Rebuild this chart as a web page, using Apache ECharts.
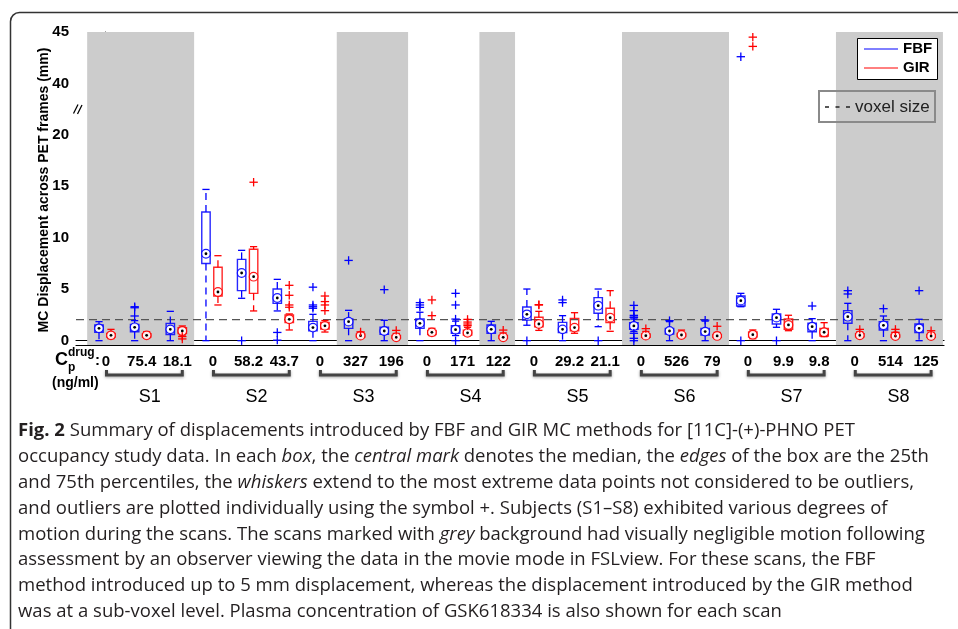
<!DOCTYPE html>
<html><head><meta charset="utf-8">
<script src="https://cdn.jsdelivr.net/npm/echarts@6/dist/echarts.min.js"></script>
<style>html,body{margin:0;padding:0;background:#fff}#c{width:958px;height:629px}</style>
</head><body><div id="c"></div><script>
// ---------- data ----------
const concLabels = ['0','75.4','18.1','0','58.2','43.7','0','327','196','0','171','122','0','29.2','21.1','0','526','79','0','9.9','9.8','0','514','125'];
const subjects = ['S1','S2','S3','S4','S5','S6','S7','S8'];
const greyScans = [1,1,1, 0,0,0, 0,1,1, 0,0,1, 0,0,0, 1,1,1, 0,0,0, 1,1,1];
// [min, q1, median, q3, max] per scan
const fbfStats = [
  [0,0.82,1.2,1.53,1.85],[0,0.87,1.3,1.58,1.95],[0,0.6,1.1,1.68,2.85],
  [0,7.5,8.45,12.5,14.7],[4.12,4.86,6.58,7.9,8.78],[2.89,3.63,4.15,5.02,5.96],
  [0,0.97,1.27,1.88,2.56],[0,1.2,1.85,2.1,2.95],[0,0.62,0.94,1.3,1.98],
  [0,1.2,1.69,2.1,2.76],[0.5,0.72,1.07,1.46,1.9],[0,0.72,1.1,1.52,1.88],
  [1.5,2.0,2.56,3.27,5.02],[0,0.78,1.1,1.78,2.43],[1.36,2.66,3.4,4.18,5.02],
  [0.9,1.1,1.43,1.75,2.1],[0,0.65,0.94,1.2,1.85],[0,0.55,0.88,1.2,1.9],
  [3.3,3.37,3.89,4.34,4.6],[1.3,1.62,2.24,2.59,3.05],[0,0.87,1.36,1.69,2.14],
  [0,1.69,2.33,2.92,3.63],[0,1.04,1.49,1.85,2.4],[0,0.78,1.2,1.62,2.08]
];
const fbfOutliers = [
  [],[2.4,3.2,3.3],[],
  [],[0],[0.8,0.05],
  [3.15,3.3,3.47,5.2],[7.8],[4.96],
  [3.24,3.47,3.7],[0,2.1,3.47,4.6],[],
  [0],[3.7,3.96],[0],
  [2.24,2.3,2.46,2.92,3.43,0.72,0.23,0],[1.95],[2.0],
  [0,42.6],[0],[3.37],
  [4.54,4.86],[3.11],[4.86]
];
const girStats = [
  [0.2,0.35,0.52,0.7,1.1],[0.25,0.35,0.52,0.68,0.87],[0.55,0.7,0.94,1.25,1.43],
  [3.47,4.34,4.73,7.13,8.26],[2.89,4.6,6.22,8.88,9.14],[1.04,1.75,2.08,2.5,2.6],
  [0.84,1.13,1.44,1.78,1.96],[0.25,0.35,0.49,0.65,0.8],[0.15,0.22,0.33,0.5,0.7],
  [0.49,0.6,0.81,1.0,1.2],[0.49,0.55,0.76,1.03,1.3],[0.15,0.22,0.33,0.5,0.75],
  [1.0,1.36,1.62,2.27,2.85],[0.72,0.97,1.27,2.17,2.72],[0.91,1.75,2.24,3.15,4.86],
  [0.25,0.33,0.49,0.65,0.9],[0.3,0.4,0.55,0.7,1.03],[0.25,0.33,0.46,0.6,0.8],
  [0.19,0.35,0.58,0.85,1.04],[0.97,1.1,1.53,2.11,2.47],[0.39,0.45,0.82,1.2,1.75],
  [0.3,0.38,0.52,0.68,0.85],[0.25,0.33,0.45,0.6,0.75],[0.25,0.33,0.45,0.6,0.75]
];
const girOutliers = [
  [],[],[0.4,0.17],
  [],[15.4],[3.25,3.47,4.41,5.38],
  [2.92,3.47,3.8,4.34],[0.85],[1.0],
  [2.43,3.96],[1.46,1.62,1.81,2.07],[1.03],
  [3.47,3.5],[],[],
  [1.17],[],[1.4],
  [43.6,44.5],[],[],
  [1.1],[0.81,1.1],[0.97]
];
const voxelSize = 2.05;
const yTickValues = [0,5,10,15,20,40,45];

// ---------- helpers ----------
const BLUE = '#0000ff', RED = '#ff0000';
const OFF = 0.168;
function T(v){ return v >= 40 ? v - 15 : v; }      // broken axis 20 | 40
function invT(v){ return v > 20 ? v + 15 : v; }
const FONT = '"Liberation Sans", Arial, sans-serif';

const boxData = [];
fbfStats.forEach((s,i)=>boxData.push([i-OFF].concat(s,[0])));
girStats.forEach((s,i)=>boxData.push([i+OFF].concat(s,[1])));
const outData = [];
fbfOutliers.forEach((a,i)=>a.forEach(v=>outData.push([i-OFF, v, 0])));
girOutliers.forEach((a,i)=>a.forEach(v=>outData.push([i+OFF, v, 1])));

// grey runs
const greyRuns = [];
greyScans.forEach((g,i)=>{
  if(!g) return;
  const last = greyRuns[greyRuns.length-1];
  if(last && last[1] === i-1) last[1] = i; else greyRuns.push([i,i]);
});

function renderBox(params, api){
  const x = api.value(0);
  const v = [1,2,3,4,5].map(k=>T(api.value(k)));
  const col = api.value(6) ? RED : BLUE;
  const px = api.coord([x,0])[0];
  const y = v.map(t=>api.coord([x,t])[1]);
  const hw = 4.2, cw = 3.6;
  const wStyle = {stroke: col, lineWidth: 1.3, lineDash: [7,5]};
  const children = [];
  if (y[4] < y[3]-0.5) children.push({type:'line', shape:{x1:px,y1:y[3],x2:px,y2:y[4]}, style:wStyle});
  if (y[0] > y[1]+0.5) children.push({type:'line', shape:{x1:px,y1:y[1],x2:px,y2:y[0]}, style:wStyle});
  children.push({type:'line', shape:{x1:px-cw,y1:y[4],x2:px+cw,y2:y[4]}, style:{stroke:col,lineWidth:1.3}});
  children.push({type:'line', shape:{x1:px-cw,y1:y[0],x2:px+cw,y2:y[0]}, style:{stroke:col,lineWidth:1.3}});
  children.push({type:'rect', shape:{x:px-hw,y:y[3],width:2*hw,height:Math.max(y[1]-y[3],1)}, style:{fill:'rgba(0,0,0,0)',stroke:col,lineWidth:1.4,opacity:0.85}});
  children.push({type:'circle', shape:{cx:px,cy:y[2],r:4.3}, style:{fill:'#fff',stroke:col,lineWidth:1.2,opacity:0.9}});
  children.push({type:'circle', shape:{cx:px,cy:y[2],r:1.4}, style:{fill:'#000'}});
  return {type:'group', children};
}
function renderOut(params, api){
  const c = api.coord([api.value(0), T(api.value(1))]);
  const col = api.value(2) ? RED : BLUE;
  const s = 4.2;
  return {type:'group', children:[
    {type:'line', shape:{x1:c[0]-s,y1:c[1],x2:c[0]+s,y2:c[1]}, style:{stroke:col,lineWidth:1.3}},
    {type:'line', shape:{x1:c[0],y1:c[1]-s,x2:c[0],y2:c[1]+s}, style:{stroke:col,lineWidth:1.3}}
  ]};
}

const chart = echarts.init(document.getElementById('c'), null, {renderer:'canvas'});

// caption
const captionLines = [
 '{b|Fig. 2} Summary of displacements introduced by FBF and GIR MC methods for [11C]-(+)-PHNO PET',
 'occupancy study data. In each {i|box}, the {i|central mark} denotes the median, the {i|edges} of the box are the 25th',
 'and 75th percentiles, the {i|whiskers} extend to the most extreme data points not considered to be outliers,',
 'and outliers are plotted individually using the symbol +. Subjects (S1–S8) exhibited various degrees of',
 'motion during the scans. The scans marked with {i|grey} background had visually negligible motion following',
 'assessment by an observer viewing the data in the movie mode in FSLview. For these scans, the FBF',
 'method introduced up to 5 mm displacement, whereas the displacement introduced by the GIR method',
 'was at a sub-voxel level. Plasma concentration of GSK618334 is also shown for each scan'
];
const CAPF = '"Open Sans", sans-serif', CAPS = 18;
const mctx = document.createElement('canvas').getContext('2d');
mctx.font = CAPS + 'px ' + CAPF;
const w2 = mctx.measureText(captionLines[1].replace(/\{i\|([^}]*)\}/g,'$1')).width;
const capScale = 922 / w2;
const capGraphics = captionLines.map((t,k)=>({
  type:'text', x:18, y:431 + 25.85*k, scaleX:capScale,
  style:{text:t, x:0, y:0, fontSize:CAPS, fontFamily:CAPF, fill:'#231f20', verticalAlign:'middle', align:'left',
    rich:{b:{fontWeight:'bold',fontSize:CAPS,fontFamily:CAPF,fill:'#231f20'}, i:{fontStyle:'italic',fontSize:CAPS,fontFamily:CAPF,fill:'#231f20'}}}
}));

const option = {
  animation:false,
  textStyle:{fontFamily:FONT},
  grid:{left:76, right:14, top:32, bottom:284, containLabel:false},
  xAxis:[
    {type:'value', min:-0.813, max:23.53, position:'bottom', axisLine:{show:true,onZero:false,lineStyle:{color:'#000',width:1.2}}, axisTick:{show:false}, axisLabel:{show:false}, splitLine:{show:false}},
    {type:'value', min:-0.813, max:23.53, position:'top', axisLine:{show:true,lineStyle:{color:'#000',width:1.2}}, axisTick:{show:false}, axisLabel:{show:false}, splitLine:{show:false}}
  ],
  yAxis:{type:'value', min:-0.42, max:30,
    axisLine:{show:true, lineStyle:{color:'#000',width:1.2}},
    axisTick:{show:true, inside:true, length:7, customValues:yTickValues.map(T), lineStyle:{color:'#000'}},
    axisLabel:{customValues:yTickValues.map(T), formatter:v=>String(invT(v)), color:'#000', fontWeight:'bold', fontSize:15, margin:7, fontFamily:FONT},
    splitLine:{show:false}},
  series:[
    {type:'custom', z:1, silent:true, data:greyRuns,
      renderItem:(params, api)=>{
        const x0 = api.coord([api.value(0)-0.5,0])[0], x1 = api.coord([api.value(1)+0.5,0])[0];
        const cs = params.coordSys;
        return {type:'rect', shape:{x:x0,y:cs.y,width:x1-x0,height:cs.height}, style:{fill:'#cccccc'}};
      }},
    {type:'custom', z:2, silent:true, data:[[0, voxelSize]],
      renderItem:(params, api)=>{
        const cs = params.coordSys; const y = api.coord([0, api.value(1)])[1];
        return {type:'line', shape:{x1:cs.x,y1:y,x2:cs.x+cs.width,y2:y}, style:{stroke:'#555',lineWidth:1.3,lineDash:[8,5]}};
      }},
    {type:'custom', z:3, silent:true, data:boxData, renderItem:renderBox},
    {type:'custom', z:4, silent:true, data:outData, renderItem:renderOut},
    {type:'custom', z:5, silent:true, clip:false, data:concLabels.map((l,i)=>[i, l]),
      renderItem:(params, api)=>{
        const i = api.value(0); const x = api.coord([i,0])[0];
        return {type:'text', x:x+1, y:362, style:{text:concLabels[i], fontFamily:FONT, fontWeight:'bold', fontSize:15, fill:'#000', align:'center', verticalAlign:'middle'}};
      }},
    {type:'custom', z:5, silent:true, clip:false, data:subjects.map((s,k)=>[k]),
      renderItem:(params, api)=>{
        const k = api.value(0);
        const x0 = api.coord([3*k,0])[0]+1.5, x1 = api.coord([3*k+2,0])[0]+6, xm = api.coord([3*k+1,0])[0]+9;
        return {type:'group', children:[
          {type:'polyline', shape:{points:[[x0,370],[x0,375],[x1,375],[x1,370]]}, style:{stroke:'#444',lineWidth:3,fill:null,shadowBlur:3,shadowColor:'rgba(0,0,0,0.35)',shadowOffsetY:1}},
          {type:'text', x:xm, y:397, style:{text:subjects[k], fontFamily:FONT, fontSize:18, fill:'#000', align:'center', verticalAlign:'middle'}}
        ]};
      }}
  ],
  graphic:[
    {type:'rect', shape:{x:10.5,y:12.5,width:1000,height:700,r:9}, style:{fill:null,stroke:'#333',lineWidth:1.5}, z:0},
    {type:'text', x:44, y:190, rotation:Math.PI/2, style:{text:'MC Displacement across PET frames (mm)', fontFamily:FONT, fontWeight:'bold', fontSize:14, fill:'#000', align:'center', verticalAlign:'middle'}},
    {type:'line', shape:{x1:73.5,y1:113.5,x2:78,y2:104.5}, style:{stroke:'#000',lineWidth:1.3}, z:100},
    {type:'line', shape:{x1:77.5,y1:114,x2:82,y2:105}, style:{stroke:'#000',lineWidth:1.3}, z:100},
    {type:'text', x:55, y:360, style:{text:'C', fontFamily:FONT, fontWeight:'bold', fontSize:18, fill:'#000', verticalAlign:'middle'}},
    {type:'text', x:68, y:353, style:{text:'drug', fontFamily:FONT, fontWeight:'bold', fontSize:12, fill:'#000', verticalAlign:'middle'}},
    {type:'text', x:68, y:368, style:{text:'p', fontFamily:FONT, fontWeight:'bold', fontSize:12, fill:'#000', verticalAlign:'middle'}},
    {type:'text', x:95, y:361, style:{text:':', fontFamily:FONT, fontWeight:'bold', fontSize:15, fill:'#000', verticalAlign:'middle'}},
    {type:'text', x:52, y:383, style:{text:'(ng/ml)', fontFamily:FONT, fontWeight:'bold', fontSize:14, fill:'#000', verticalAlign:'middle'}},
    // legend
    {type:'rect', shape:{x:857.5,y:38.5,width:80,height:41}, style:{fill:'#fff',stroke:'#000',lineWidth:1}, z:100},
    {type:'line', shape:{x1:864,y1:49,x2:898,y2:49}, style:{stroke:BLUE,lineWidth:1}, z:101},
    {type:'line', shape:{x1:864,y1:68,x2:898,y2:68}, style:{stroke:RED,lineWidth:1}, z:101},
    {type:'text', x:903, y:49, style:{text:'FBF', fontFamily:FONT, fontWeight:'bold', fontSize:15, fill:'#000', verticalAlign:'middle'}, z:101},
    {type:'text', x:903, y:68, style:{text:'GIR', fontFamily:FONT, fontWeight:'bold', fontSize:15, fill:'#000', verticalAlign:'middle'}, z:101},
    {type:'rect', shape:{x:819,y:91,width:116,height:31}, style:{fill:null,stroke:'#8a8a8a',lineWidth:2}, z:100},
    {type:'line', shape:{x1:825,y1:107,x2:850,y2:107}, style:{stroke:'#222',lineWidth:1.3,lineDash:[4,6.5]}, z:101},
    {type:'text', x:855, y:107, style:{text:'voxel size', fontFamily:FONT, fontSize:17, fill:'#222', verticalAlign:'middle'}, z:101}
  ].concat(capGraphics)
};
chart.setOption(option);
</script></body></html>
